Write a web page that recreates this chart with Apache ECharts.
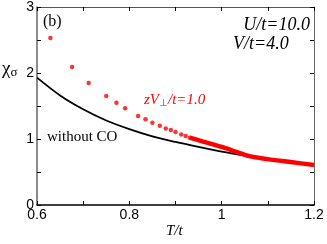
<!DOCTYPE html>
<html><head><meta charset="utf-8">
<script src="https://cdn.jsdelivr.net/npm/echarts@6/dist/echarts.min.js"></script>
<style>html,body{margin:0;padding:0;background:#fff}#c{width:327px;height:244px}</style>
</head><body><div id="c"></div>
<script>
// Data
const redDotsT = [0.629,0.676,0.712,0.750,0.772,0.791,0.819,0.835,0.850,0.866,0.879,0.890,0.900,0.9125,0.922,0.931];
const redDotsChi = [2.53,2.09,1.85,1.65,1.55,1.465,1.35,1.30,1.247,1.20,1.16,1.136,1.106,1.07,1.045,1.02];
const redDenseT = [0.931,0.96,1.0,1.03,1.06,1.1,1.15,1.2];
const redDenseChi = [1.02,0.96,0.88,0.81,0.74,0.695,0.65,0.606];
const noCoT = [0.6,0.65,0.7,0.75,0.8,0.85,0.9,0.95,1.0,1.06];
const noCoChi = [1.93,1.66,1.45,1.28,1.15,1.04,0.955,0.88,0.81,0.74];
const xTicks = [0.6,0.8,1,1.2];
const yTicks = [0,1,2,3];

const zip = (a,b)=>a.map((v,i)=>[v,b[i]]);
const chart = echarts.init(document.getElementById('c'), null, {renderer:'canvas'});
const sans = '"Liberation Sans", Arial, sans-serif';
const serif = '"Liberation Serif", "Times New Roman", serif';
const tickBase = {show:true, inside:true, length:4, lineStyle:{color:'#000', width:1}};
const minorBase = {show:true, splitNumber:2, length:4, lineStyle:{color:'#000', width:1}};
chart.setOption({
  animation:false,
  grid:{left:37, right:13, top:7, bottom:39},
  xAxis:[{
    type:'value', min:0.6, max:1.2, interval:0.2,
    axisLine:{show:true, onZero:false, lineStyle:{color:'#000', width:1.5}},
    axisTick:tickBase, minorTick:minorBase, splitLine:{show:false},
    axisLabel:{color:'#000', fontFamily:sans, fontSize:14, margin:3,
      formatter:v=>{const f=xTicks.find(t=>Math.abs(t-v)<1e-6);return f===undefined?'':String(f);}}
  },{
    type:'value', position:'top', min:0.6, max:1.2, interval:0.2,
    axisLine:{show:true, onZero:false, lineStyle:{color:'#555', width:1}},
    axisTick:tickBase, minorTick:minorBase, axisLabel:{show:false}, splitLine:{show:false}
  }],
  yAxis:[{
    type:'value', min:0, max:3, interval:1,
    axisLine:{show:true, onZero:false, lineStyle:{color:'#666', width:1.5}},
    axisTick:tickBase, minorTick:minorBase, splitLine:{show:false},
    axisLabel:{color:'#000', fontFamily:sans, fontSize:14, margin:3,
      formatter:v=>{const f=yTicks.find(t=>Math.abs(t-v)<1e-6);return f===undefined?'':String(f);}}
  },{
    type:'value', position:'right', min:0, max:3, interval:1,
    axisLine:{show:true, onZero:false, lineStyle:{color:'#666', width:1}},
    axisTick:tickBase, minorTick:minorBase, axisLabel:{show:false}, splitLine:{show:false}
  }],
  series:[
    {type:'line', data:zip(noCoT,noCoChi), smooth:0.3, symbol:'none',
      lineStyle:{color:'#000', width:1.8}, z:2},
    {type:'line', data:zip(redDenseT,redDenseChi), smooth:0.3, symbol:'none',
      lineStyle:{color:'#ff0000', width:4.5}, z:3},
    {type:'scatter', data:zip(redDotsT,redDotsChi), symbol:'circle', symbolSize:4.5,
      itemStyle:{color:'#ff0000'}, z:3}
  ],
  graphic:[
    {type:'text', left:2, top:60, style:{text:'χ{s|σ}', rich:{s:{fontFamily:serif, fontSize:13, fill:'#000', padding:[7,0,0,0]}}, fontFamily:serif, fontSize:19, fill:'#000'}},
    {type:'text', left:43, top:14, style:{text:'(b)', fontFamily:serif, fontSize:16, fill:'#000'}},
    {type:'text', right:17, top:16, style:{text:'U/t=10.0', fontFamily:serif, fontStyle:'italic', fontSize:18, fill:'#000'}},
    {type:'text', left:233, top:35, style:{text:'V/t=4.0', fontFamily:serif, fontStyle:'italic', fontSize:18, fill:'#000'}},
    {type:'text', left:144, top:93, style:{text:'zV{s|⊥}/t=1.0', fontFamily:serif, fontStyle:'italic', fontSize:15, fill:'#ff0000',
      rich:{s:{fontFamily:serif, fontSize:10, fill:'#ff0000', padding:[6,0,0,0]}}}},
    {type:'text', left:47, top:130, style:{text:'without CO', fontFamily:serif, fontSize:15, fill:'#000'}},
    {type:'text', left:166, top:224, style:{text:'T/t', fontFamily:serif, fontStyle:'italic', fontSize:15, fill:'#000'}}
  ]
});
</script></body></html>
